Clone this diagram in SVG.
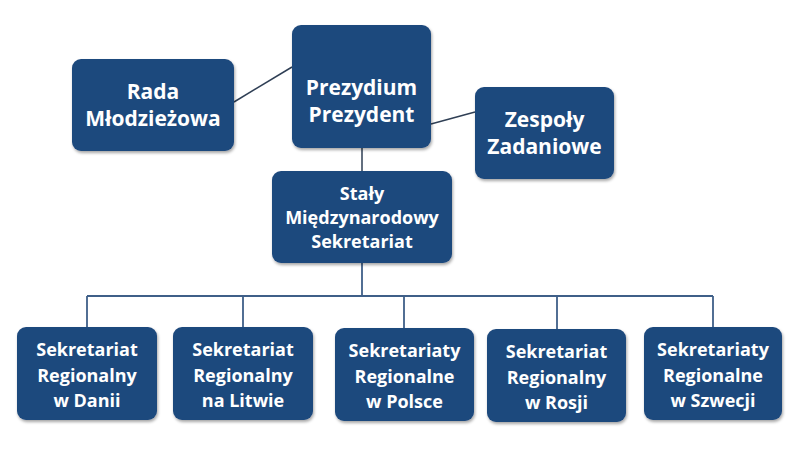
<svg xmlns="http://www.w3.org/2000/svg" width="800" height="450" viewBox="0 0 800 450">
<defs>
<filter id="sh" x="-10%" y="-10%" width="125%" height="130%">
<feDropShadow dx="1" dy="2" stdDeviation="1.5" flood-color="#000" flood-opacity="0.35"/>
</filter>
<style>
.box{fill:#1f497d;filter:url(#sh)}
.t{fill:#fff;font-family:"Open Sans","Liberation Sans",sans-serif;font-weight:700;text-anchor:middle}
.big{font-size:21px}
.sm{font-size:18px}
.ln{stroke:#2f3f55;stroke-width:1.5;fill:none}
.bus{stroke:#3f5f88;stroke-width:1.8;fill:none}
</style>
</defs>
<rect width="800" height="450" fill="#fff"/>
<g id="connectors">
<line class="ln" x1="234" y1="102" x2="292" y2="67"/>
<line class="ln" x1="431" y1="124" x2="475" y2="112"/>
<line class="ln" x1="362" y1="148" x2="362" y2="171"/>
<polyline class="bus" points="362,263 362,296"/>
<line class="bus" x1="87" y1="296" x2="713" y2="296"/>
<line class="bus" x1="87" y1="296" x2="87" y2="327"/>
<line class="bus" x1="243" y1="296" x2="243" y2="327"/>
<line class="bus" x1="404" y1="296" x2="404" y2="328"/>
<line class="bus" x1="557" y1="296" x2="557" y2="329"/>
<line class="bus" x1="713" y1="296" x2="713" y2="327"/>
</g>
<g id="rada">
<rect class="box" x="72" y="59" width="162" height="92" rx="9"/>
<text class="t big" x="153" y="99">Rada</text>
<text class="t big" x="153" y="126">Młodzieżowa</text>
</g>
<g id="prezydium">
<rect class="box" x="292" y="25" width="139" height="123" rx="9"/>
<text class="t big" x="361.5" y="95">Prezydium</text>
<text class="t big" x="361.5" y="122">Prezydent</text>
</g>
<g id="zespoly">
<rect class="box" x="475" y="87" width="139" height="92" rx="9"/>
<text class="t big" x="544.5" y="127">Zespoły</text>
<text class="t big" x="544.5" y="154">Zadaniowe</text>
</g>
<g id="staly">
<rect class="box" x="272" y="171" width="180" height="92" rx="9"/>
<text class="t sm" x="362" y="200">Stały</text>
<text class="t sm" x="362" y="224">Międzynarodowy</text>
<text class="t sm" x="362" y="248">Sekretariat</text>
</g>
<g id="dania">
<rect class="box" x="17" y="327" width="140" height="93" rx="9"/>
<text class="t sm" x="87" y="356">Sekretariat</text>
<text class="t sm" x="87" y="382">Regionalny</text>
<text class="t sm" x="87" y="407">w Danii</text>
</g>
<g id="litwa">
<rect class="box" x="173" y="327" width="140" height="93" rx="9"/>
<text class="t sm" x="243" y="356">Sekretariat</text>
<text class="t sm" x="243" y="382">Regionalny</text>
<text class="t sm" x="243" y="407">na Litwie</text>
</g>
<g id="polska">
<rect class="box" x="335" y="328" width="139" height="93" rx="9"/>
<text class="t sm" x="404.5" y="357">Sekretariaty</text>
<text class="t sm" x="404.5" y="383">Regionalne</text>
<text class="t sm" x="404.5" y="408">w Polsce</text>
</g>
<g id="rosja">
<rect class="box" x="487" y="329" width="139" height="93" rx="9"/>
<text class="t sm" x="556.5" y="358">Sekretariat</text>
<text class="t sm" x="556.5" y="384">Regionalny</text>
<text class="t sm" x="556.5" y="409">w Rosji</text>
</g>
<g id="szwecja">
<rect class="box" x="644" y="327" width="138" height="93" rx="9"/>
<text class="t sm" x="713" y="356">Sekretariaty</text>
<text class="t sm" x="713" y="382">Regionalne</text>
<text class="t sm" x="713" y="407">w Szwecji</text>
</g>
</svg>
